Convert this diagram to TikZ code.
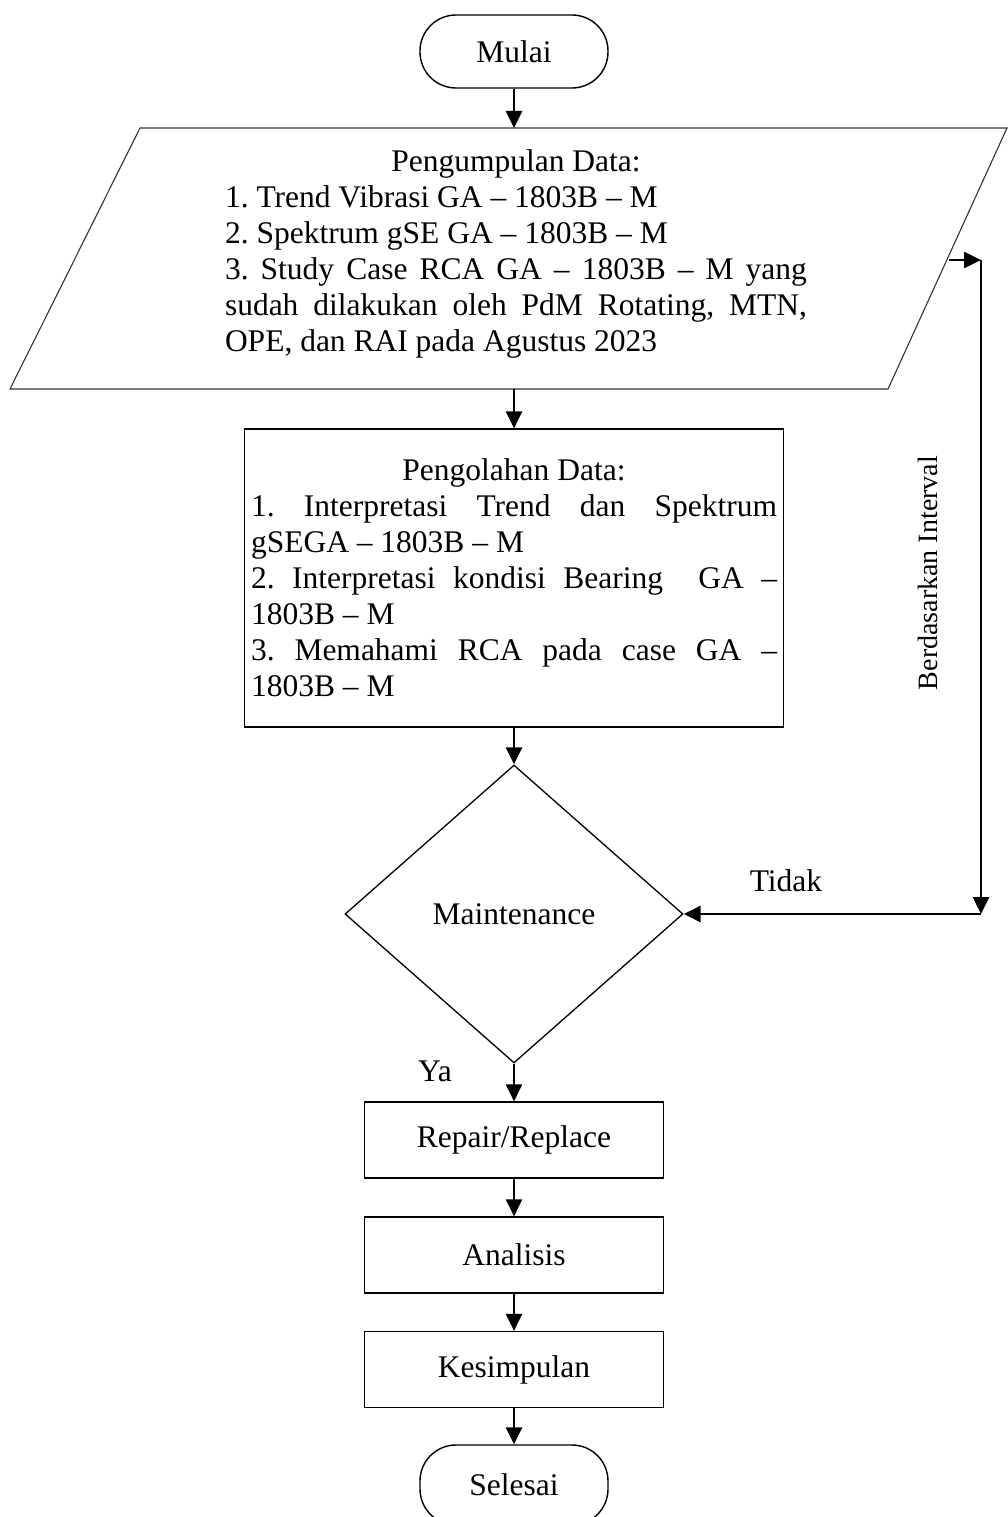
\documentclass[tikz,border=0pt]{standalone}
\usepackage{fontspec}
\setmainfont{Liberation Serif}
\usetikzlibrary{shapes.geometric,arrows.meta}
\hyphenpenalty=10000
\exhyphenpenalty=10000
\tolerance=10000
\hbadness=10000
\frenchspacing
\begin{document}
\begin{tikzpicture}[x=1pt,y=-1pt,
  every node/.style={font=\fontsize{31.5}{36}\selectfont\frenchspacing},
  term/.style={draw, line width=1.4pt, rounded corners=36pt, minimum width=188pt, minimum height=73pt, inner sep=0pt},
  procbox/.style={draw, line width=1.2pt, rectangle, inner sep=0pt},
  flow/.style={line width=2.6pt, -{Triangle[length=17pt,width=16pt]}},
]
\fill[white] (0,0) rectangle (1007,1517);
\useasboundingbox (0,0) rectangle (1007,1517);

% terminals and boxes
\node[term] (start) at (514,51.5) {Mulai};

\coordinate (pbl) at (10,389);
\coordinate (ptl) at (140,128);
\coordinate (ptr) at (1007,128);
\coordinate (pbr) at (888,389);
\draw[line width=1.1pt, black!80] (pbl) -- (ptl) -- (ptr) -- (pbr) -- cycle;
\coordinate (ptop) at (514,128);
\coordinate (pbot) at (514,389);
\node[text width=582pt, align=justify, inner sep=0pt] (collect) at (516,254) {%
{\centering Pengumpulan Data:\par}
1. Trend Vibrasi GA – 1803B – M\par
2. Spektrum gSE GA – 1803B – M\par
3. Study Case RCA GA – 1803B – M yang\linebreak sudah dilakukan oleh PdM Rotating, MTN,\linebreak OPE, dan RAI pada Agustus 2023};

\node[procbox, text width=526pt, align=justify, minimum height=298pt, inner xsep=6.5pt] (proc) at (514,578) {%
{\centering Pengolahan Data:\par}
1. Interpretasi Trend dan Spektrum\linebreak gSEGA – 1803B – M\par
2. Interpretasi kondisi Bearing\ \ GA –\linebreak 1803B – M\par
3. Memahami RCA pada case GA –\linebreak 1803B – M};

\node[diamond, draw, line width=1.3pt, minimum width=338pt, minimum height=298pt, inner sep=0pt, aspect=1.134] (dec) at (514,914) {Maintenance};

\node[procbox, minimum width=299pt, minimum height=76pt] (rep) at (514,1140) {Repair/Replace};
\node[procbox, minimum width=299pt, minimum height=76pt] (ana) at (514,1255) {Analisis};
\node[procbox, minimum width=299pt, minimum height=76pt] (kes) at (514,1369.5) {Kesimpulan};
\node[term, minimum height=80pt] (finish) at (514,1485) {Selesai};

% connectors
\draw[flow] (start.south) -- (ptop);
\draw[flow] (pbot) -- (proc.north);
\draw[flow] (proc.south) -- (dec.north);
\draw[flow] (dec.south) -- (rep.north);
\draw[flow] (rep.south) -- (ana.north);
\draw[flow] (ana.south) -- (kes.north);
\draw[flow] (kes.south) -- (finish.north);

\coordinate (pe) at (949,260);
\coordinate (c1) at (981,260);
\coordinate (c2) at (981,914);
\draw[flow] (pe) -- (c1);
\draw[flow] (c1) -- (c2);
\draw[flow] (c2) -- (dec.east);

% labels
\node (tidak) at (786,881) {Tidak};
\node (ya) at (435,1071) {Ya};
\node[rotate=90, font=\fontsize{28}{32}\selectfont] (interval) at (928,573) {Berdasarkan Interval};
\end{tikzpicture}
\end{document}
